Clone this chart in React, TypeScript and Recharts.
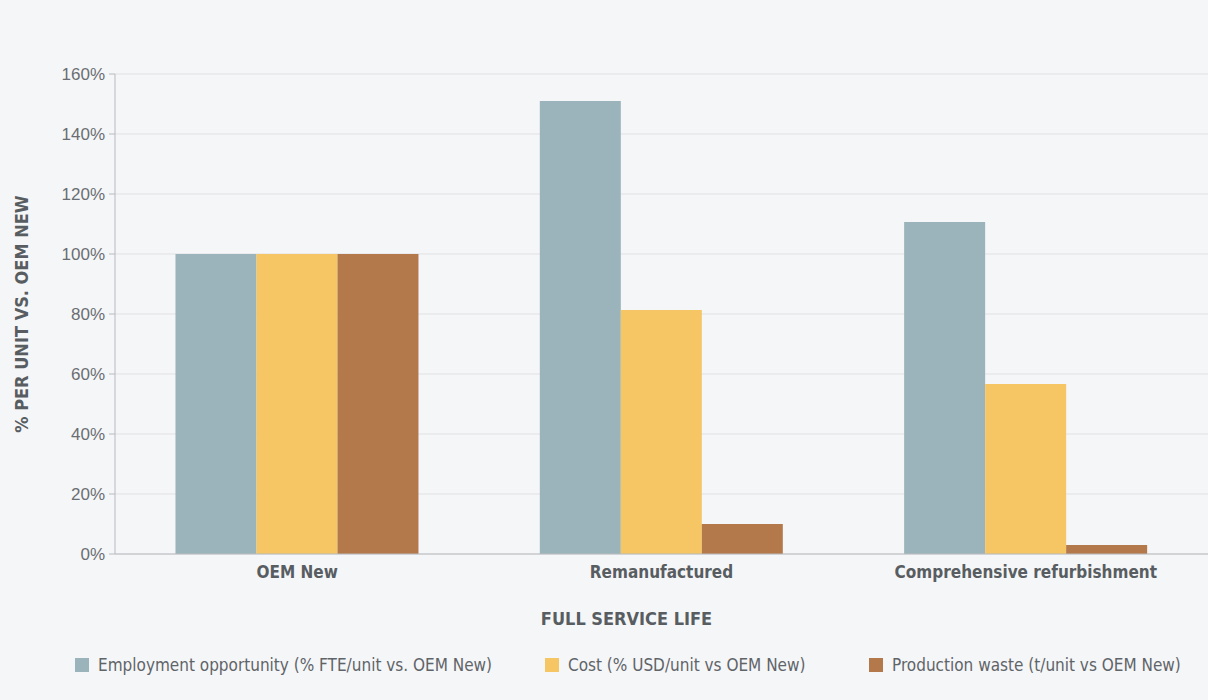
import { BarChart, Bar, XAxis, YAxis, CartesianGrid, Legend, Label } from "recharts";

const categories = ["OEM New", "Remanufactured", "Comprehensive refurbishment"];
const employment = [100, 151, 110.7];
const cost = [100, 81.3, 56.7];
const waste = [100, 10, 3];
const yTicks = [0, 20, 40, 60, 80, 100, 120, 140, 160];

const SERIES = [
  { key: "employment", name: "Employment opportunity (% FTE/unit vs. OEM New)", color: "#9bb3ba", w: 470 },
  { key: "cost", name: "Cost (% USD/unit vs OEM New)", color: "#f6c665", w: 324 },
  { key: "waste", name: "Production waste (t/unit vs OEM New)", color: "#b3794a", w: 330 },
];

const data = categories.map((name, i) => ({
  name,
  employment: employment[i],
  cost: cost[i],
  waste: waste[i],
}));

const NARROW = "'DejaVu Sans Condensed', 'DejaVu Sans', sans-serif";

function LegendRow() {
  return (
    <div
      style={{
        display: "flex",
        alignItems: "center",
        height: 46,
        paddingLeft: 75,
        fontFamily: NARROW,
        fontStretch: "condensed",
        fontSize: 17,
        color: "#5f6468",
        whiteSpace: "nowrap",
      }}
    >
      {SERIES.map(s => (
        <div key={s.key} style={{ display: "flex", alignItems: "center", width: s.w }}>
          <span style={{ display: "inline-block", width: 14, height: 14, background: s.color, marginRight: 9 }} />
          {s.name}
        </div>
      ))}
    </div>
  );
}

export default function App() {
  return (
    <div style={{ position: "absolute", left: 0, top: 0, width: 1208, height: 700, background: "#f5f6f8" }}>
      <BarChart
        width={1208}
        height={700}
        data={data}
        margin={{ top: 74, right: 0, bottom: 0, left: 0 }}
        barCategoryGap="16.6%"
        barGap={0}
      >
        <CartesianGrid vertical={false} stroke="#e0e1e4" />
        <XAxis
          dataKey="name"
          height={100}
          axisLine={{ stroke: "#b8babd" }}
          tickLine={false}
          tickMargin={6}
          tick={{ fontFamily: NARROW, fontStretch: "condensed", fontWeight: "bold", fontSize: 17, fill: "#585d61" }}
        >
          <Label
            value="FULL SERVICE LIFE"
            position="insideTop"
            offset={58}
            dx={-35}
            style={{ fontFamily: NARROW, fontStretch: "condensed", fontWeight: "bold", fontSize: 18, fill: "#585d61" }}
          />
        </XAxis>
        <YAxis
          width={115}
          domain={[0, 160]}
          ticks={yTicks}
          tickFormatter={v => `${v}%`}
          axisLine={{ stroke: "#b8babd" }}
          tickLine={{ stroke: "#b8babd" }}
          tickSize={6}
          tickMargin={4}
          tick={{ fontFamily: "'Liberation Sans', Arial, sans-serif", fontSize: 17, fill: "#6a6e72" }}
        >
          <Label
            value="% PER UNIT  VS. OEM NEW"
            angle={-90}
            position="insideLeft"
            offset={22}
            style={{ textAnchor: "middle", fontFamily: NARROW, fontStretch: "condensed", fontWeight: "bold", fontSize: 18, fill: "#585d61" }}
          />
        </YAxis>
        {SERIES.map(s => (
          <Bar key={s.key} dataKey={s.key} name={s.name} fill={s.color} isAnimationActive={false} />
        ))}
        <Legend verticalAlign="bottom" align="left" content={<LegendRow />} wrapperStyle={{ left: 0, bottom: 12, height: 46 }} />
      </BarChart>
    </div>
  );
}
